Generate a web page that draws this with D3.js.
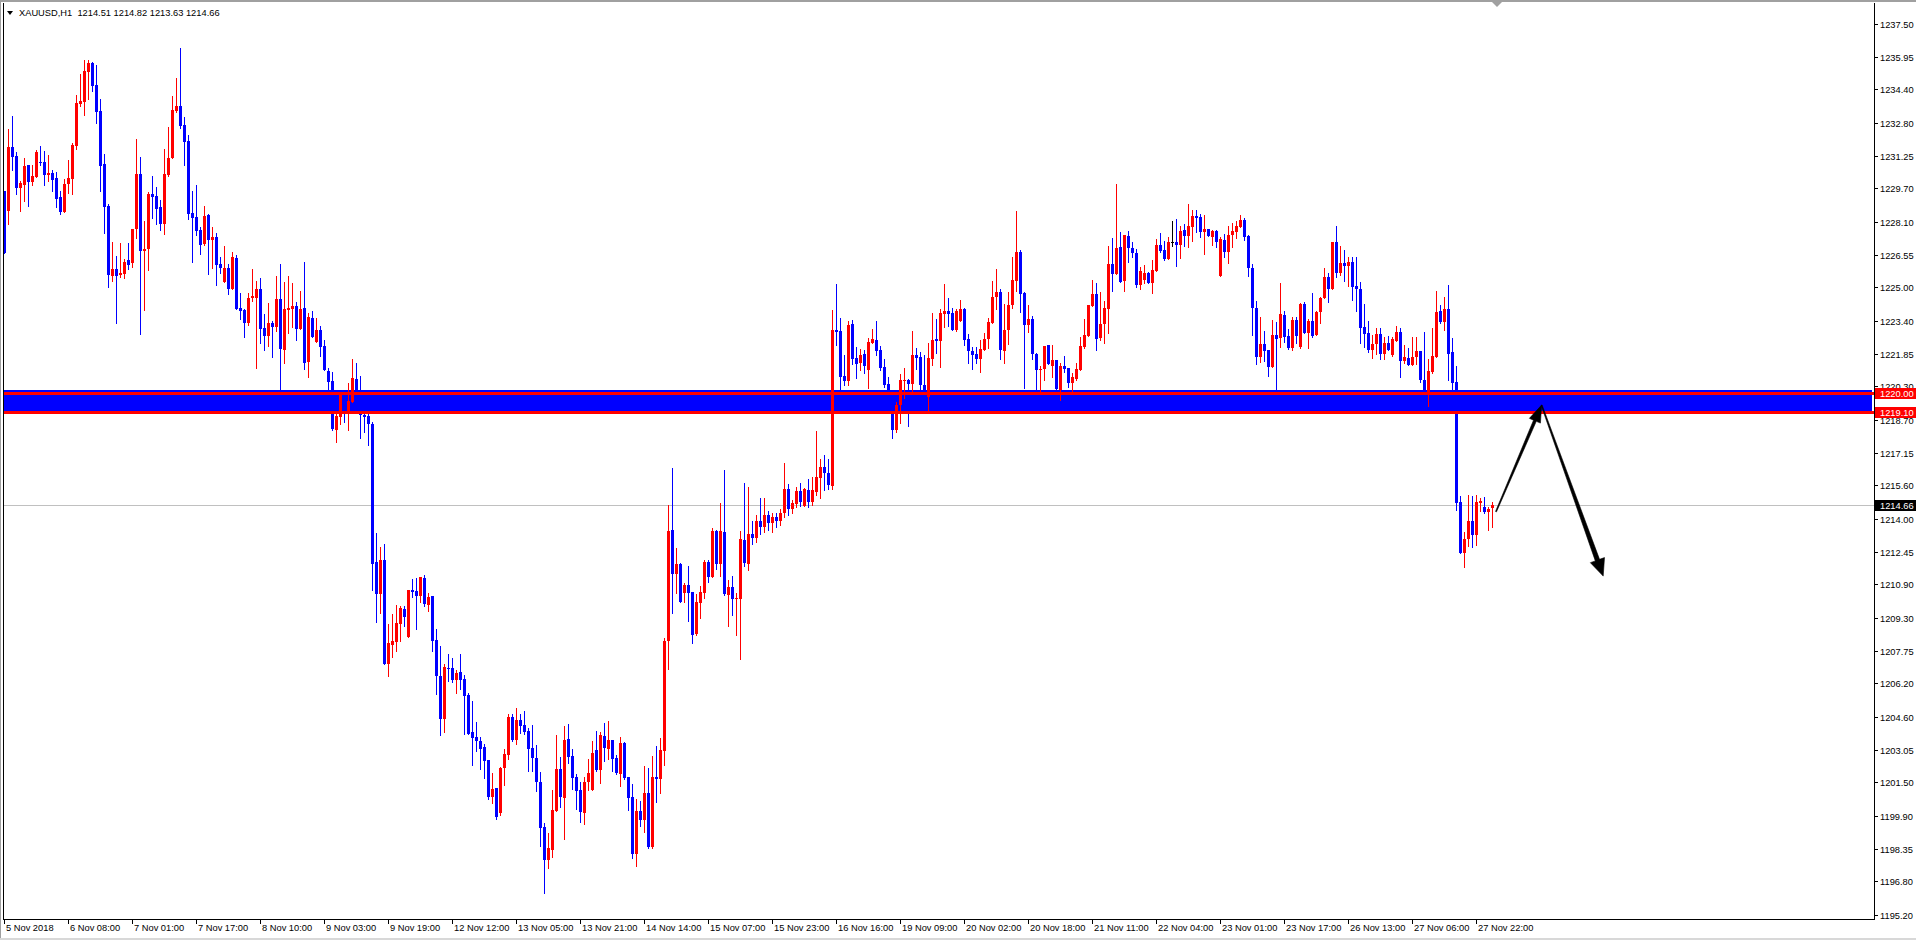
<!DOCTYPE html>
<html><head><meta charset="utf-8">
<script src="https://cdn.jsdelivr.net/npm/d3@7"></script>
<style>
html,body{margin:0;padding:0;background:#fff;overflow:hidden}
svg{display:block}
text{font-family:"Liberation Sans",Arial,sans-serif;font-size:9.3px}
</style></head><body>
<svg id="c" width="1916" height="940"></svg>
<script>
const symbolTitle = "XAUUSD,H1";
const lastBar = [1214.51, 1214.82, 1213.63, 1214.66];

const open = [
1229.57,1228.64,1231.66,1231.23,1229.73,1229.87,1230.81,1230.02,1230.25,1230.95,
1230.95,1230.35,1230.43,1230.19,1229.29,1228.58,1229.90,1230.16,1231.73,1233.70,
1233.81,1235.24,1235.65,1234.61,1233.37,1230.85,1228.86,1225.55,1225.87,1225.58,
1225.65,1226.30,1226.17,1227.77,1230.38,1226.72,1226.82,1229.43,1229.34,1228.81,
1228.02,1230.35,1231.14,1233.39,1233.61,1232.71,1231.95,1228.53,1228.34,1227.72,
1227.07,1228.43,1227.25,1227.39,1226.11,1225.25,1225.92,1224.93,1226.39,1224.02,
1223.92,1223.32,1224.51,1224.49,1224.93,1223.07,1222.69,1223.33,1223.14,1224.44,
1222.02,1223.93,1223.97,1224.12,1223.01,1224.03,1221.45,1223.54,1222.39,1222.97,
1222.22,1221.02,1220.55,1218.23,1218.83,1219.82,1219.13,1219.58,1220.65,1220.01,
1218.94,1218.88,1218.51,1211.96,1210.44,1212.05,1207.11,1208.02,1208.18,1209.03,
1209.72,1208.41,1210.62,1210.59,1210.34,1211.21,1209.93,1210.34,1208.26,1206.55,
1204.51,1206.93,1206.93,1206.36,1206.74,1206.40,1205.65,1203.89,1203.66,1203.47,
1203.17,1202.55,1200.81,1201.24,1200.05,1202.19,1202.79,1204.60,1203.52,1204.44,
1204.20,1203.93,1203.13,1202.65,1201.53,1199.37,1197.82,1198.30,1200.13,1202.13,
1200.77,1203.55,1202.75,1201.75,1201.13,1200.05,1201.51,1201.15,1203.03,1202.08,
1203.69,1203.08,1203.50,1202.65,1201.91,1203.36,1201.75,1200.80,1198.11,1200.13,
1199.72,1200.99,1198.44,1201.75,1201.67,1203.00,1208.22,1213.48,1211.40,1211.86,
1210.47,1210.86,1210.53,1208.55,1210.03,1210.50,1211.96,1211.26,1213.43,1211.88,
1213.38,1210.39,1210.77,1210.20,1210.20,1213.00,1211.88,1213.29,1213.10,1213.90,
1213.60,1214.20,1213.80,1214.10,1213.90,1214.30,1215.42,1214.46,1214.71,1215.34,
1214.62,1215.38,1214.82,1215.30,1215.96,1216.47,1216.18,1215.58,1222.96,1222.93,
1220.79,1220.57,1223.26,1221.66,1221.39,1221.83,1221.09,1222.37,1222.50,1222.02,
1221.22,1220.41,1219.60,1218.23,1219.40,1220.55,1220.60,1220.41,1221.79,1221.71,
1220.38,1219.81,1221.61,1222.55,1222.47,1223.75,1223.88,1223.76,1222.97,1223.40,
1223.95,1222.55,1221.99,1221.83,1221.60,1222.02,1222.53,1223.29,1224.54,1224.78,
1221.99,1222.97,1224.16,1225.32,1226.68,1224.75,1223.23,1223.50,1221.85,1221.09,
1221.12,1222.26,1221.26,1221.55,1220.12,1221.26,1221.15,1220.47,1220.65,1221.09,
1222.18,1222.70,1224.13,1224.68,1222.58,1223.26,1223.99,1226.12,1225.65,1226.90,
1225.32,1227.45,1226.87,1226.63,1225.13,1225.35,1225.66,1225.22,1225.77,1227.01,
1226.77,1226.34,1227.15,1227.15,1227.01,1227.72,1227.44,1227.88,1228.39,1228.32,
1227.64,1227.77,1227.41,1227.67,1225.55,1227.25,1226.66,1227.48,1227.64,1227.88,
1228.20,1227.44,1225.93,1224.03,1221.71,1222.31,1222.02,1221.23,1222.73,1222.61,
1223.68,1222.69,1222.13,1223.45,1222.18,1224.21,1222.81,1223.42,1222.75,1223.84,
1224.48,1225.49,1224.92,1227.15,1225.69,1226.17,1226.03,1226.20,1225.06,1224.90,
1223.12,1222.85,1222.02,1222.31,1222.77,1221.86,1222.34,1221.77,1222.45,1222.88,
1221.50,1221.64,1221.33,1221.69,1221.99,1220.60,1219.90,1220.98,1221.71,1223.87,
1223.35,1223.97,1221.93,1220.52,1214.81,1212.40,1213.03,1213.90,1213.24,1214.77,
1214.57,1214.35,1214.51];

const high = [
1229.57,1232.52,1233.13,1231.42,1230.06,1231.14,1230.81,1230.81,1231.50,1231.71,
1231.49,1231.28,1230.57,1230.47,1229.56,1230.14,1231.04,1231.84,1234.13,1235.14,
1235.79,1235.79,1235.71,1235.56,1233.94,1231.33,1228.95,1227.15,1226.49,1227.12,
1226.36,1227.10,1227.77,1232.04,1231.19,1228.15,1229.51,1230.28,1229.76,1229.15,
1231.57,1232.61,1234.08,1234.94,1236.36,1233.07,1232.23,1229.57,1229.86,1227.86,
1228.86,1228.48,1227.86,1227.58,1226.42,1226.96,1226.11,1226.68,1226.53,1224.73,
1223.98,1224.73,1225.85,1225.30,1225.43,1223.72,1224.25,1223.39,1225.55,1226.11,
1225.25,1225.55,1225.21,1224.31,1224.83,1226.20,1223.78,1223.87,1223.54,1223.16,
1222.51,1221.19,1220.98,1219.09,1220.03,1220.10,1220.46,1221.60,1221.42,1220.80,
1219.16,1219.16,1218.60,1213.35,1212.67,1212.82,1209.01,1209.50,1209.91,1209.87,
1209.87,1210.63,1211.15,1211.19,1211.24,1211.34,1210.47,1210.34,1208.79,1207.98,
1207.11,1207.60,1207.40,1206.83,1207.60,1206.59,1205.74,1205.37,1204.37,1203.66,
1203.32,1202.55,1201.95,1201.24,1202.24,1203.06,1204.76,1204.76,1205.02,1204.74,
1204.88,1204.06,1204.22,1203.25,1201.99,1199.56,1199.07,1201.13,1203.74,1202.70,
1204.17,1204.26,1203.08,1201.91,1201.51,1201.75,1202.60,1203.46,1203.93,1203.89,
1204.31,1204.41,1203.50,1202.78,1203.65,1203.43,1201.75,1201.42,1200.70,1200.61,
1202.27,1202.18,1202.75,1203.22,1203.60,1208.35,1214.66,1216.42,1212.62,1211.89,
1210.96,1211.77,1210.53,1210.44,1210.82,1212.05,1212.05,1213.57,1213.48,1214.76,
1216.33,1211.10,1211.29,1210.49,1213.43,1215.71,1215.52,1213.90,1214.20,1215.00,
1215.00,1214.40,1214.30,1214.30,1214.50,1216.66,1215.65,1214.90,1215.52,1215.72,
1215.46,1215.91,1216.01,1218.18,1216.86,1217.04,1216.83,1223.92,1225.16,1223.53,
1221.79,1223.40,1223.45,1222.18,1222.07,1222.02,1222.58,1223.02,1223.40,1222.21,
1221.58,1220.74,1219.90,1219.57,1220.87,1221.15,1220.65,1222.93,1222.12,1221.94,
1221.79,1222.36,1223.76,1223.51,1223.99,1225.16,1224.49,1224.03,1223.95,1224.40,
1224.00,1222.77,1222.17,1222.18,1222.50,1222.82,1223.53,1225.30,1225.87,1224.92,
1224.19,1224.78,1226.44,1228.62,1226.77,1224.78,1224.16,1223.64,1221.90,1221.26,
1222.21,1222.26,1222.26,1221.55,1221.42,1221.74,1221.18,1220.92,1221.42,1222.66,
1223.50,1224.16,1225.35,1225.22,1224.78,1224.35,1226.96,1227.34,1229.91,1227.64,
1227.50,1227.69,1227.14,1226.82,1225.95,1226.04,1225.74,1226.30,1227.29,1227.58,
1227.18,1227.39,1228.15,1228.23,1227.91,1227.99,1228.96,1228.67,1228.67,1228.47,
1228.43,1227.77,1227.72,1227.72,1227.37,1227.53,1227.91,1228.04,1228.15,1228.43,
1228.31,1227.48,1226.11,1224.35,1223.57,1222.93,1222.02,1223.45,1223.37,1225.19,
1223.87,1223.00,1223.57,1223.57,1224.27,1224.30,1223.48,1224.71,1223.87,1224.56,
1225.90,1225.66,1227.15,1227.91,1226.96,1226.77,1226.42,1226.45,1226.42,1225.25,
1224.21,1223.38,1222.73,1223.08,1223.05,1222.66,1222.70,1222.66,1223.16,1223.08,
1222.24,1222.10,1222.66,1222.66,1221.99,1222.89,1221.58,1223.05,1224.84,1224.16,
1224.52,1225.11,1222.58,1221.26,1215.09,1213.38,1215.14,1215.09,1215.14,1214.98,
1215.06,1214.57,1214.82];

const low = [
1226.64,1228.01,1230.57,1229.43,1228.62,1229.10,1228.86,1229.86,1230.25,1230.81,
1229.86,1230.06,1229.59,1228.83,1228.50,1228.58,1229.49,1229.43,1231.58,1233.61,
1233.20,1233.94,1234.32,1232.82,1229.57,1227.59,1225.03,1225.31,1223.32,1225.47,
1225.46,1225.87,1225.98,1227.36,1222.80,1223.94,1225.82,1228.31,1228.01,1227.72,
1227.55,1230.28,1231.14,1233.34,1232.58,1230.81,1228.26,1226.22,1227.50,1226.60,
1227.01,1225.65,1225.93,1225.12,1225.69,1225.25,1224.70,1224.93,1223.98,1223.51,
1222.66,1223.23,1224.33,1221.19,1222.35,1222.02,1222.22,1221.70,1222.92,1220.10,
1221.42,1222.82,1223.11,1222.51,1223.01,1221.14,1220.74,1222.64,1222.39,1221.74,
1221.08,1220.16,1218.23,1217.66,1218.53,1218.60,1218.23,1219.58,1219.16,1217.85,
1218.13,1217.51,1210.62,1209.12,1209.54,1207.11,1206.55,1207.43,1207.75,1208.20,
1208.94,1208.41,1210.31,1208.79,1210.04,1209.87,1209.65,1207.72,1205.67,1203.76,
1203.91,1206.33,1206.25,1205.74,1205.95,1203.79,1203.79,1202.33,1202.99,1202.14,
1201.71,1200.73,1200.53,1199.74,1199.97,1201.37,1202.60,1203.47,1203.32,1203.85,
1203.81,1202.05,1202.05,1201.10,1198.49,1196.25,1197.41,1197.97,1200.13,1200.31,
1198.82,1202.43,1201.19,1200.24,1199.63,1199.52,1201.13,1201.13,1202.02,1201.48,
1202.52,1202.59,1202.03,1201.89,1201.34,1201.64,1200.20,1197.90,1197.54,1199.44,
1199.12,1198.39,1198.39,1200.58,1201.00,1202.33,1206.86,1209.55,1210.47,1210.07,
1210.07,1209.17,1208.13,1208.51,1209.31,1210.26,1211.02,1211.26,1211.64,1211.31,
1210.39,1208.93,1209.46,1208.51,1207.37,1211.78,1211.59,1212.80,1212.90,1213.30,
1213.40,1213.50,1213.40,1213.60,1213.70,1214.10,1214.20,1214.30,1214.58,1214.62,
1214.62,1214.58,1214.66,1215.14,1215.01,1215.38,1215.41,1215.41,1222.26,1220.12,
1220.36,1220.36,1221.36,1220.71,1221.07,1220.92,1220.24,1222.37,1221.79,1221.07,
1220.28,1219.65,1217.86,1218.11,1218.54,1219.76,1218.43,1219.97,1221.12,1220.12,
1219.60,1219.10,1221.31,1221.87,1221.23,1223.13,1223.18,1222.97,1222.94,1223.40,
1222.26,1221.42,1221.12,1221.42,1220.99,1222.02,1222.13,1223.29,1223.95,1221.60,
1221.42,1222.32,1224.03,1224.83,1223.84,1220.24,1222.88,1221.60,1220.09,1220.09,
1220.60,1221.36,1220.76,1220.12,1219.65,1220.96,1220.28,1220.08,1220.60,1221.07,
1222.10,1222.70,1224.13,1222.02,1222.50,1222.37,1222.85,1224.84,1225.65,1225.27,
1224.84,1226.22,1226.44,1225.03,1224.94,1225.19,1225.19,1224.75,1225.77,1226.68,
1226.30,1226.34,1226.98,1226.01,1226.41,1226.98,1226.93,1227.22,1227.64,1227.41,
1226.58,1227.44,1227.01,1226.90,1225.55,1226.46,1226.17,1226.93,1227.33,1227.88,
1227.25,1225.55,1222.73,1221.34,1221.44,1221.52,1220.80,1221.23,1220.12,1222.18,
1222.42,1222.05,1222.02,1222.34,1222.10,1222.81,1222.10,1222.66,1222.75,1223.32,
1224.48,1224.32,1224.92,1225.50,1225.58,1225.28,1225.06,1224.40,1223.87,1222.34,
1222.18,1221.94,1221.63,1221.83,1221.58,1221.58,1222.02,1221.74,1222.45,1220.76,
1221.39,1221.31,1221.33,1221.36,1220.52,1219.80,1219.38,1220.92,1221.71,1223.29,
1222.97,1220.60,1220.12,1214.43,1212.40,1211.73,1212.72,1212.68,1212.76,1214.39,
1214.30,1213.48,1213.63];

const close = [
1226.64,1231.66,1231.20,1229.73,1229.95,1230.76,1230.02,1230.28,1231.42,1230.89,
1230.35,1230.43,1230.11,1229.21,1228.59,1229.90,1230.19,1231.76,1233.75,1233.86,
1235.29,1235.65,1234.57,1233.34,1230.78,1228.83,1225.58,1225.87,1225.55,1225.68,
1226.20,1226.06,1227.77,1230.38,1226.72,1226.82,1229.43,1229.30,1228.72,1228.02,
1230.38,1231.14,1233.42,1233.61,1232.66,1231.92,1228.50,1228.31,1227.67,1227.02,
1228.39,1227.25,1227.39,1226.07,1225.92,1225.92,1224.93,1226.44,1223.98,1223.89,
1223.32,1224.49,1224.57,1224.93,1223.01,1222.69,1223.31,1223.14,1224.44,1222.09,
1223.97,1224.03,1224.12,1223.01,1223.95,1221.42,1223.59,1222.64,1222.96,1222.17,
1221.08,1220.50,1218.28,1218.88,1219.92,1219.16,1219.61,1220.70,1220.10,1218.94,
1218.85,1218.49,1211.88,1210.44,1212.05,1207.11,1208.11,1208.20,1209.07,1209.78,
1209.35,1210.62,1210.53,1210.34,1211.24,1209.97,1210.31,1208.20,1206.55,1204.51,
1206.98,1206.89,1206.36,1206.70,1206.36,1205.59,1203.79,1203.62,1203.44,1203.08,
1202.52,1200.81,1201.20,1199.83,1202.19,1202.84,1204.60,1203.52,1204.44,1204.19,
1203.90,1203.08,1202.67,1201.53,1199.34,1197.82,1198.36,1200.18,1202.13,1200.81,
1203.51,1202.71,1201.72,1201.08,1200.10,1201.51,1201.92,1202.89,1202.08,1203.74,
1203.14,1203.49,1202.60,1201.94,1203.36,1201.69,1200.77,1198.11,1200.13,1199.71,
1200.99,1198.44,1201.75,1201.67,1203.03,1208.21,1213.43,1211.40,1211.86,1210.07,
1210.86,1210.50,1208.51,1210.06,1210.53,1211.96,1211.26,1213.43,1211.88,1213.43,
1210.45,1210.77,1210.22,1210.25,1213.05,1211.93,1213.29,1213.10,1213.90,1213.60,
1214.20,1213.80,1214.10,1213.90,1214.30,1215.42,1214.46,1214.74,1215.34,1214.82,
1215.41,1214.81,1215.38,1215.99,1216.47,1216.20,1215.61,1222.96,1222.89,1220.76,
1220.57,1223.21,1221.60,1221.36,1221.79,1221.28,1222.40,1222.55,1221.99,1221.18,
1220.38,1220.05,1218.23,1219.40,1220.60,1220.58,1220.41,1221.79,1221.66,1220.38,
1219.90,1221.64,1222.50,1222.47,1223.76,1223.88,1223.75,1222.97,1223.88,1223.95,
1222.50,1221.99,1221.79,1221.60,1222.07,1222.55,1223.35,1224.54,1224.78,1222.02,
1222.97,1224.16,1225.35,1226.68,1224.70,1223.23,1223.50,1221.85,1221.09,1221.12,
1222.21,1221.36,1221.55,1220.16,1221.26,1221.11,1220.47,1220.74,1221.12,1222.21,
1222.74,1224.16,1224.68,1222.56,1223.26,1224.03,1226.12,1225.65,1226.87,1225.27,
1227.48,1226.88,1226.65,1225.13,1225.77,1225.70,1225.22,1225.82,1227.01,1226.74,
1226.34,1227.15,1227.15,1227.01,1227.67,1227.44,1227.91,1228.39,1228.29,1227.64,
1227.77,1227.44,1227.67,1227.17,1227.28,1226.68,1227.48,1227.69,1227.91,1228.20,
1227.41,1225.93,1224.00,1221.71,1222.31,1221.99,1221.23,1222.73,1222.56,1223.72,
1222.66,1222.10,1223.45,1222.70,1224.21,1222.81,1223.42,1222.69,1223.84,1224.51,
1225.49,1224.92,1227.15,1225.69,1226.17,1226.03,1226.20,1225.03,1224.90,1223.08,
1222.78,1222.02,1222.31,1222.77,1221.83,1222.34,1222.02,1222.55,1222.88,1221.50,
1221.69,1221.33,1221.69,1221.98,1220.60,1220.00,1221.03,1221.75,1223.84,1223.35,
1223.97,1221.83,1220.47,1214.77,1212.40,1213.03,1213.90,1213.24,1214.81,1214.85,
1214.35,1214.47,1214.66];

const timeLabels = ["5 Nov 2018","6 Nov 08:00","7 Nov 01:00","7 Nov 17:00","8 Nov 10:00","9 Nov 03:00",
"9 Nov 19:00","12 Nov 12:00","13 Nov 05:00","13 Nov 21:00","14 Nov 14:00","15 Nov 07:00",
"15 Nov 23:00","16 Nov 16:00","19 Nov 09:00","20 Nov 02:00","20 Nov 18:00","21 Nov 11:00",
"22 Nov 04:00","23 Nov 01:00","23 Nov 17:00","26 Nov 13:00","27 Nov 06:00","27 Nov 22:00"];
const barsPerLabel = 16;

const priceTicks = [1237.50,1235.95,1234.40,1232.80,1231.25,1229.70,1228.10,1226.55,1225.00,1223.40,
1221.85,1220.30,1218.70,1217.15,1215.60,1214.00,1212.45,1210.90,1209.30,1207.75,1206.20,1204.60,
1203.05,1201.50,1199.90,1198.35,1196.80,1195.20];

const zoneLevels = [1220.00, 1219.10];
const bidPrice = 1214.66;
// projected path of the drawn arrows: [bar index, price]
const arrowBars = [373, 384.4, 399.8];
const arrowPrices = [1214.35, 1219.41, 1211.29];

// ---------------------------------------------------------------
const W = 1916, H = 940;
const P = {left: 3, top: 3, right: 1874, bottom: 919};
const n = Math.min(open.length, high.length, low.length, close.length);
const svg = d3.select("#c");

const x = d3.scaleLinear().domain([0, 1]).range([4, 8]);
const y = d3.scaleLinear().domain([1195.20, 1237.50]).range([915, 24.1]);

// window chrome
svg.append("rect").attr("x",0).attr("y",0).attr("width",W).attr("height",H).attr("fill","#ffffff");
svg.append("rect").attr("x",0).attr("y",0).attr("width",W).attr("height",2).attr("fill","#a0a0a0");
svg.append("rect").attr("x",0).attr("y",0).attr("width",1).attr("height",H).attr("fill","#a0a0a0");
svg.append("rect").attr("x",0).attr("y",H-2).attr("width",W).attr("height",2).attr("fill","#d8d8d8");

svg.append("defs").append("clipPath").attr("id","clip")
  .append("rect").attr("x",P.left+1).attr("y",P.top).attr("width",P.right-P.left-1).attr("height",P.bottom-P.top);

const plot = svg.append("g").attr("clip-path","url(#clip)").attr("shape-rendering","crispEdges");

// zone rectangle (background object)
const yTop = Math.round(y(zoneLevels[0])), yBot = Math.round(y(zoneLevels[1]));
plot.append("rect").attr("x",P.left).attr("y",yTop-3).attr("width",1872-P.left).attr("height",yBot-yTop+4)
  .attr("fill","#0000ff");

// bid line
plot.append("rect").attr("x",P.left).attr("y",Math.round(y(bidPrice))).attr("width",P.right-P.left).attr("height",1)
  .attr("fill","#c0c0c0");

// candles
const idx = d3.range(n);
const col = i => close[i] > open[i] ? "#ff0000" : (close[i] < open[i] ? "#0000ff" : "#000000");
plot.append("g").selectAll("rect").data(idx).join("rect")
  .attr("x", i => Math.round(x(i)))
  .attr("y", i => Math.round(y(high[i])))
  .attr("width", 1)
  .attr("height", i => Math.max(1, Math.round(y(low[i])) - Math.round(y(high[i])) + 1))
  .attr("fill", col);
plot.append("g").selectAll("rect").data(idx).join("rect")
  .attr("x", i => Math.round(x(i)) - 1)
  .attr("y", i => Math.round(y(Math.max(open[i], close[i]))))
  .attr("width", 3)
  .attr("height", i => Math.max(1, Math.round(y(Math.min(open[i], close[i]))) - Math.round(y(Math.max(open[i], close[i])))))
  .attr("fill", col);

// horizontal level lines
zoneLevels.forEach(v => {
  plot.append("rect").attr("x",P.left).attr("y",Math.round(y(v))-1).attr("width",P.right-P.left).attr("height",3)
    .attr("fill","#ff0000");
});

// arrows
function arrowPoly(x0,y0,x1,y1,w0,w1,hl,hw){
  const dx=x1-x0, dy=y1-y0, L=Math.hypot(dx,dy), ux=dx/L, uy=dy/L, nx=-uy, ny=ux;
  const bx=x1-ux*hl, by=y1-uy*hl;
  return [[x0+nx*w0/2,y0+ny*w0/2],[bx+nx*w1/2,by+ny*w1/2],[bx+nx*hw,by+ny*hw],[x1,y1],
          [bx-nx*hw,by-ny*hw],[bx-nx*w1/2,by-ny*w1/2],[x0-nx*w0/2,y0-ny*w0/2]];
}
const arrowStyle = [{w0:1,w1:3,hl:17,hw:6},{w0:1,w1:4.5,hl:17,hw:7.5}];
const ag = svg.append("g");
for (let s=0; s<arrowBars.length-1; s++){
  const st = arrowStyle[s];
  const pts = arrowPoly(x(arrowBars[s]), y(arrowPrices[s]), x(arrowBars[s+1]), y(arrowPrices[s+1]), st.w0, st.w1, st.hl, st.hw);
  ag.append("path").attr("d", d3.line()(pts) + "Z").attr("fill","#000000").attr("stroke","#000000").attr("stroke-width",0.6);
}

// frame
const fr = svg.append("g").attr("shape-rendering","crispEdges").attr("stroke","#000").attr("stroke-width",1);
fr.append("line").attr("x1",P.left+0.5).attr("x2",P.left+0.5).attr("y1",P.top).attr("y2",P.bottom+1);
fr.append("line").attr("x1",P.right+0.5).attr("x2",P.right+0.5).attr("y1",P.top).attr("y2",P.bottom+1);
fr.append("line").attr("x1",P.left).attr("x2",P.right+1).attr("y1",P.bottom+0.5).attr("y2",P.bottom+0.5);

// price axis
const ya = svg.append("g");
priceTicks.forEach(v => {
  const yy = Math.round(y(v));
  ya.append("line").attr("x1",P.right).attr("x2",P.right+4).attr("y1",yy+0.5).attr("y2",yy+0.5)
    .attr("stroke","#000").attr("shape-rendering","crispEdges");
  ya.append("text").attr("x",P.right+6).attr("y",yy+3.5).attr("fill","#000").text(d3.format(".2f")(v));
});

function priceTag(v, bg){
  const yy = Math.round(y(v));
  ya.append("rect").attr("x",P.right+1).attr("y",yy-5).attr("width",W-P.right-1).attr("height",11)
    .attr("fill",bg).attr("shape-rendering","crispEdges");
  ya.append("text").attr("x",P.right+6).attr("y",yy+3.5).attr("fill","#fff").text(d3.format(".2f")(v));
}
zoneLevels.forEach(v => priceTag(v, "#ff0000"));
priceTag(bidPrice, "#000000");

// time axis
const xa = svg.append("g");
timeLabels.forEach((t, k) => {
  const xx = Math.round(x(k*barsPerLabel));
  xa.append("line").attr("x1",xx+0.5).attr("x2",xx+0.5).attr("y1",P.bottom).attr("y2",P.bottom+5)
    .attr("stroke","#000").attr("shape-rendering","crispEdges");
  xa.append("text").attr("x",xx+2).attr("y",P.bottom+12).attr("fill","#000").text(t);
});

// header
svg.append("path").attr("d","M7,11 L13,11 L10,15 Z").attr("fill","#000");
svg.append("text").attr("x",19).attr("y",16).attr("fill","#000").attr("xml:space","preserve")
  .text(symbolTitle + "  " + lastBar.map(d3.format(".2f")).join(" "));

// chart shift marker
const sx = Math.round(x(n-1)) + 5;
svg.append("path").attr("d",`M${sx-5},2 L${sx+5},2 L${sx},7 Z`).attr("fill","#a0a0a0");
</script>
</body></html>
